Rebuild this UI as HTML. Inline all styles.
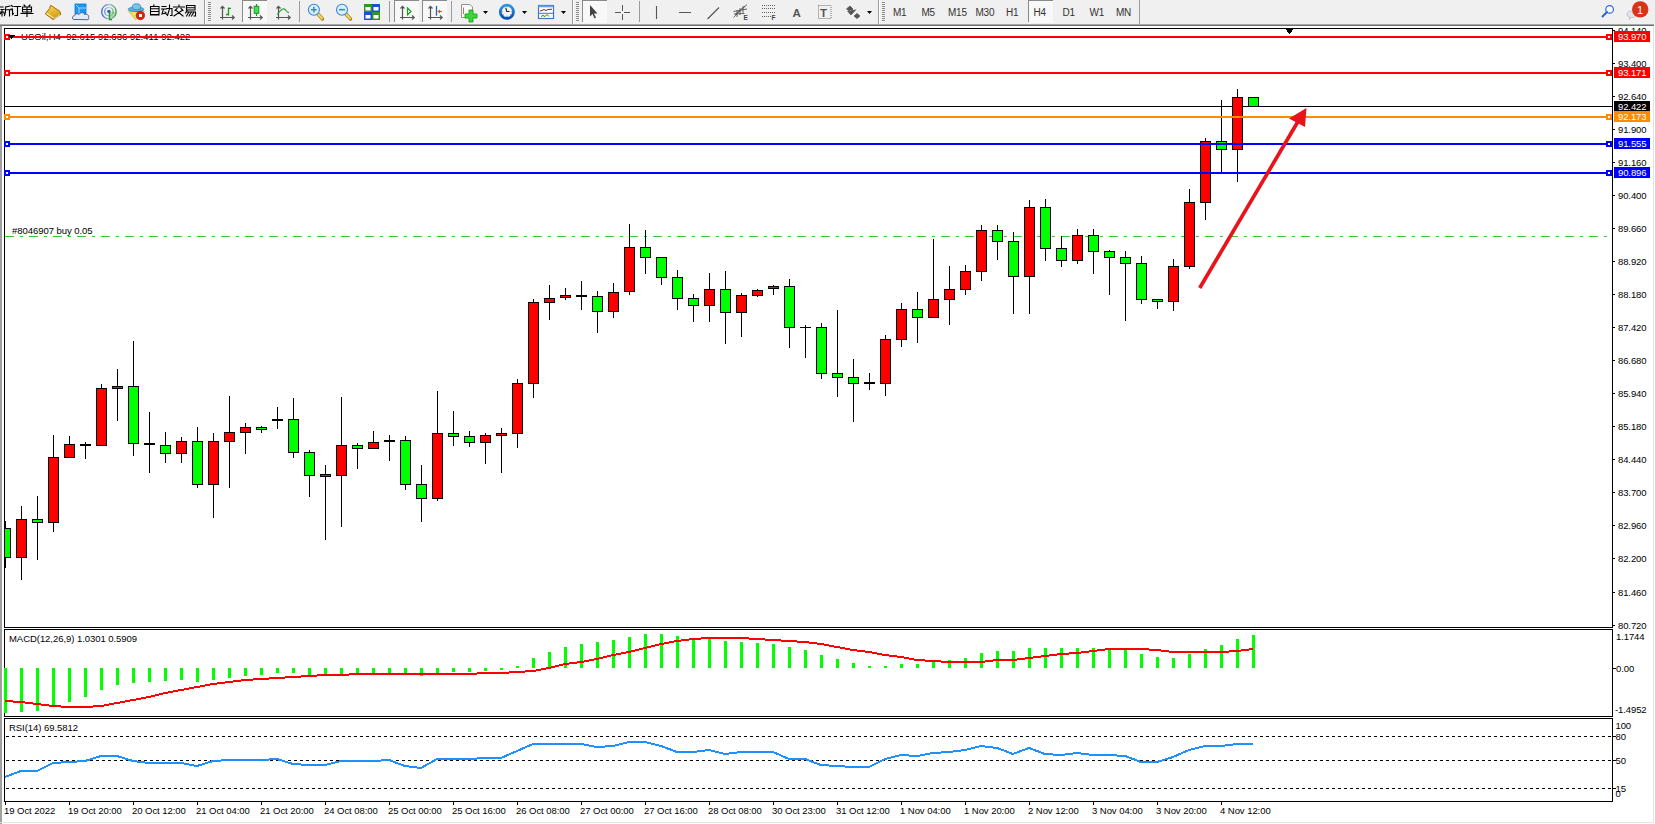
<!DOCTYPE html>
<html><head><meta charset="utf-8"><style>
html,body{margin:0;padding:0;width:1655px;height:824px;overflow:hidden;background:#fff}
svg{position:absolute;left:0;top:0;display:block}
.ax{font-family:"Liberation Sans",sans-serif;font-size:9.5px;fill:#000;letter-spacing:-0.1px}
.axw{font-family:"Liberation Sans",sans-serif;font-size:9.5px;fill:#fff;letter-spacing:-0.1px}
.lbl{font-family:"Liberation Sans",sans-serif;font-size:9.5px;fill:#000;letter-spacing:-0.05px}
.tb{font-family:"Liberation Sans",sans-serif;font-size:10px;fill:#333}
</style></head><body>
<svg width="1655" height="824" viewBox="0 0 1655 824" shape-rendering="crispEdges">
<rect x="0" y="0" width="1655" height="24" fill="#f0f0f0"/>
<rect x="0" y="24" width="1654" height="1" fill="#a8a8a8"/>
<rect x="0" y="25" width="1654" height="1" fill="#6e6e6e"/>
<rect x="0" y="26" width="1655" height="798" fill="#ffffff"/>
<rect x="0" y="26" width="2" height="798" fill="#a0a0a0"/>
<rect x="1653" y="26" width="1" height="797" fill="#e3e3e3"/>
<rect x="0" y="822" width="1654" height="1" fill="#e3e3e3"/>
<rect x="4.5" y="28.5" width="1608" height="599" fill="none" stroke="#000" stroke-width="1"/>
<rect x="4.5" y="629.5" width="1608" height="87" fill="none" stroke="#000" stroke-width="1"/>
<rect x="4.5" y="718.5" width="1608" height="83" fill="none" stroke="#000" stroke-width="1"/>
<rect x="1613" y="30" width="2" height="1" fill="#000"/>
<text x="1618" y="34.0" class="ax">94.140</text>
<rect x="1613" y="63" width="2" height="1" fill="#000"/>
<text x="1618" y="67.0" class="ax">93.400</text>
<rect x="1613" y="96" width="2" height="1" fill="#000"/>
<text x="1618" y="100.0" class="ax">92.640</text>
<rect x="1613" y="129" width="2" height="1" fill="#000"/>
<text x="1618" y="133.0" class="ax">91.900</text>
<rect x="1613" y="162" width="2" height="1" fill="#000"/>
<text x="1618" y="166.0" class="ax">91.160</text>
<rect x="1613" y="195" width="2" height="1" fill="#000"/>
<text x="1618" y="199.0" class="ax">90.400</text>
<rect x="1613" y="228" width="2" height="1" fill="#000"/>
<text x="1618" y="232.0" class="ax">89.660</text>
<rect x="1613" y="261" width="2" height="1" fill="#000"/>
<text x="1618" y="265.0" class="ax">88.920</text>
<rect x="1613" y="294" width="2" height="1" fill="#000"/>
<text x="1618" y="298.0" class="ax">88.180</text>
<rect x="1613" y="327" width="2" height="1" fill="#000"/>
<text x="1618" y="331.0" class="ax">87.420</text>
<rect x="1613" y="360" width="2" height="1" fill="#000"/>
<text x="1618" y="364.0" class="ax">86.680</text>
<rect x="1613" y="393" width="2" height="1" fill="#000"/>
<text x="1618" y="397.0" class="ax">85.940</text>
<rect x="1613" y="426" width="2" height="1" fill="#000"/>
<text x="1618" y="430.0" class="ax">85.180</text>
<rect x="1613" y="459" width="2" height="1" fill="#000"/>
<text x="1618" y="463.0" class="ax">84.440</text>
<rect x="1613" y="492" width="2" height="1" fill="#000"/>
<text x="1618" y="496.0" class="ax">83.700</text>
<rect x="1613" y="525" width="2" height="1" fill="#000"/>
<text x="1618" y="529.0" class="ax">82.960</text>
<rect x="1613" y="558" width="2" height="1" fill="#000"/>
<text x="1618" y="562.0" class="ax">82.200</text>
<rect x="1613" y="592" width="2" height="1" fill="#000"/>
<text x="1618" y="596.0" class="ax">81.460</text>
<rect x="1613" y="625" width="2" height="1" fill="#000"/>
<text x="1618" y="629.0" class="ax">80.720</text>
<rect x="5" y="106" width="1607" height="1" fill="#000"/>
<rect x="1614" y="101" width="36" height="11" fill="#000"/>
<text x="1618" y="110" class="axw">92.422</text>
<line x1="5" y1="236.5" x2="1612" y2="236.5" stroke="#32cd32" stroke-width="1" stroke-dasharray="9 6 3 6"/>
<text x="12" y="234" class="lbl">#8046907 buy 0.05</text>
<text x="21" y="40" class="lbl" style="letter-spacing:0.03px">USOil,H4&#160;&#160;92.615 92.636 92.411 92.422</text>
<path d="M1284.5 28 L1294.5 28 L1289.5 34 Z" fill="#000"/>
<rect x="5" y="521" width="1" height="47" fill="#000"/>
<rect x="0.5" y="528.5" width="10" height="29" fill="#00ff00" stroke="#000" stroke-width="1"/>
<rect x="21" y="506" width="1" height="74" fill="#000"/>
<rect x="16.5" y="519.5" width="10" height="38" fill="#ff0000" stroke="#000" stroke-width="1"/>
<rect x="37" y="496" width="1" height="64" fill="#000"/>
<rect x="32.5" y="519.5" width="10" height="3" fill="#00ff00" stroke="#000" stroke-width="1"/>
<rect x="53" y="435" width="1" height="97" fill="#000"/>
<rect x="48.5" y="457.5" width="10" height="65" fill="#ff0000" stroke="#000" stroke-width="1"/>
<rect x="69" y="436" width="1" height="21" fill="#000"/>
<rect x="64.5" y="444.5" width="10" height="13" fill="#ff0000" stroke="#000" stroke-width="1"/>
<rect x="85" y="442" width="1" height="17" fill="#000"/>
<rect x="80" y="444" width="11" height="2" fill="#000"/>
<rect x="101" y="384" width="1" height="61" fill="#000"/>
<rect x="96.5" y="388.5" width="10" height="57" fill="#ff0000" stroke="#000" stroke-width="1"/>
<rect x="117" y="369" width="1" height="52" fill="#000"/>
<rect x="112.5" y="386.5" width="10" height="2" fill="#ff0000" stroke="#000" stroke-width="1"/>
<rect x="133" y="341" width="1" height="115" fill="#000"/>
<rect x="128.5" y="386.5" width="10" height="57" fill="#00ff00" stroke="#000" stroke-width="1"/>
<rect x="149" y="412" width="1" height="61" fill="#000"/>
<rect x="144" y="443" width="11" height="2" fill="#000"/>
<rect x="165" y="432" width="1" height="31" fill="#000"/>
<rect x="160.5" y="445.5" width="10" height="8" fill="#00ff00" stroke="#000" stroke-width="1"/>
<rect x="181" y="437" width="1" height="26" fill="#000"/>
<rect x="176.5" y="441.5" width="10" height="12" fill="#ff0000" stroke="#000" stroke-width="1"/>
<rect x="197" y="427" width="1" height="61" fill="#000"/>
<rect x="192.5" y="441.5" width="10" height="43" fill="#00ff00" stroke="#000" stroke-width="1"/>
<rect x="213" y="433" width="1" height="85" fill="#000"/>
<rect x="208.5" y="441.5" width="10" height="43" fill="#ff0000" stroke="#000" stroke-width="1"/>
<rect x="229" y="396" width="1" height="92" fill="#000"/>
<rect x="224.5" y="432.5" width="10" height="9" fill="#ff0000" stroke="#000" stroke-width="1"/>
<rect x="245" y="423" width="1" height="31" fill="#000"/>
<rect x="240.5" y="427.5" width="10" height="5" fill="#ff0000" stroke="#000" stroke-width="1"/>
<rect x="261" y="426" width="1" height="7" fill="#000"/>
<rect x="256.5" y="427.5" width="10" height="2" fill="#00ff00" stroke="#000" stroke-width="1"/>
<rect x="277" y="407" width="1" height="22" fill="#000"/>
<rect x="272" y="419" width="11" height="2" fill="#000"/>
<rect x="293" y="398" width="1" height="60" fill="#000"/>
<rect x="288.5" y="419.5" width="10" height="33" fill="#00ff00" stroke="#000" stroke-width="1"/>
<rect x="309" y="450" width="1" height="47" fill="#000"/>
<rect x="304.5" y="452.5" width="10" height="23" fill="#00ff00" stroke="#000" stroke-width="1"/>
<rect x="325" y="465" width="1" height="75" fill="#000"/>
<rect x="320.5" y="474.5" width="10" height="2" fill="#ff0000" stroke="#000" stroke-width="1"/>
<rect x="341" y="397" width="1" height="130" fill="#000"/>
<rect x="336.5" y="445.5" width="10" height="30" fill="#ff0000" stroke="#000" stroke-width="1"/>
<rect x="357" y="443" width="1" height="26" fill="#000"/>
<rect x="352.5" y="445.5" width="10" height="3" fill="#00ff00" stroke="#000" stroke-width="1"/>
<rect x="373" y="431" width="1" height="17" fill="#000"/>
<rect x="368.5" y="442.5" width="10" height="6" fill="#ff0000" stroke="#000" stroke-width="1"/>
<rect x="389" y="435" width="1" height="26" fill="#000"/>
<rect x="384" y="440" width="11" height="2" fill="#000"/>
<rect x="405" y="436" width="1" height="54" fill="#000"/>
<rect x="400.5" y="440.5" width="10" height="44" fill="#00ff00" stroke="#000" stroke-width="1"/>
<rect x="421" y="465" width="1" height="57" fill="#000"/>
<rect x="416.5" y="484.5" width="10" height="14" fill="#00ff00" stroke="#000" stroke-width="1"/>
<rect x="437" y="391" width="1" height="110" fill="#000"/>
<rect x="432.5" y="433.5" width="10" height="65" fill="#ff0000" stroke="#000" stroke-width="1"/>
<rect x="453" y="411" width="1" height="35" fill="#000"/>
<rect x="448.5" y="433.5" width="10" height="3" fill="#00ff00" stroke="#000" stroke-width="1"/>
<rect x="469" y="431" width="1" height="16" fill="#000"/>
<rect x="464.5" y="436.5" width="10" height="6" fill="#00ff00" stroke="#000" stroke-width="1"/>
<rect x="485" y="433" width="1" height="31" fill="#000"/>
<rect x="480.5" y="435.5" width="10" height="7" fill="#ff0000" stroke="#000" stroke-width="1"/>
<rect x="501" y="428" width="1" height="45" fill="#000"/>
<rect x="496.5" y="433.5" width="10" height="2" fill="#ff0000" stroke="#000" stroke-width="1"/>
<rect x="517" y="379" width="1" height="69" fill="#000"/>
<rect x="512.5" y="383.5" width="10" height="50" fill="#ff0000" stroke="#000" stroke-width="1"/>
<rect x="533" y="299" width="1" height="99" fill="#000"/>
<rect x="528.5" y="302.5" width="10" height="81" fill="#ff0000" stroke="#000" stroke-width="1"/>
<rect x="549" y="285" width="1" height="35" fill="#000"/>
<rect x="544.5" y="298.5" width="10" height="4" fill="#ff0000" stroke="#000" stroke-width="1"/>
<rect x="565" y="288" width="1" height="12" fill="#000"/>
<rect x="560.5" y="295.5" width="10" height="2" fill="#ff0000" stroke="#000" stroke-width="1"/>
<rect x="581" y="281" width="1" height="29" fill="#000"/>
<rect x="576" y="295" width="11" height="2" fill="#000"/>
<rect x="597" y="291" width="1" height="42" fill="#000"/>
<rect x="592.5" y="296.5" width="10" height="15" fill="#00ff00" stroke="#000" stroke-width="1"/>
<rect x="613" y="283" width="1" height="35" fill="#000"/>
<rect x="608.5" y="292.5" width="10" height="19" fill="#ff0000" stroke="#000" stroke-width="1"/>
<rect x="629" y="224" width="1" height="71" fill="#000"/>
<rect x="624.5" y="247.5" width="10" height="44" fill="#ff0000" stroke="#000" stroke-width="1"/>
<rect x="645" y="230" width="1" height="44" fill="#000"/>
<rect x="640.5" y="247.5" width="10" height="10" fill="#00ff00" stroke="#000" stroke-width="1"/>
<rect x="661" y="257" width="1" height="28" fill="#000"/>
<rect x="656.5" y="257.5" width="10" height="20" fill="#00ff00" stroke="#000" stroke-width="1"/>
<rect x="677" y="270" width="1" height="40" fill="#000"/>
<rect x="672.5" y="277.5" width="10" height="21" fill="#00ff00" stroke="#000" stroke-width="1"/>
<rect x="693" y="294" width="1" height="28" fill="#000"/>
<rect x="688.5" y="298.5" width="10" height="7" fill="#00ff00" stroke="#000" stroke-width="1"/>
<rect x="709" y="273" width="1" height="49" fill="#000"/>
<rect x="704.5" y="289.5" width="10" height="16" fill="#ff0000" stroke="#000" stroke-width="1"/>
<rect x="725" y="271" width="1" height="73" fill="#000"/>
<rect x="720.5" y="289.5" width="10" height="23" fill="#00ff00" stroke="#000" stroke-width="1"/>
<rect x="741" y="293" width="1" height="44" fill="#000"/>
<rect x="736.5" y="295.5" width="10" height="17" fill="#ff0000" stroke="#000" stroke-width="1"/>
<rect x="757" y="289" width="1" height="8" fill="#000"/>
<rect x="752.5" y="290.5" width="10" height="5" fill="#ff0000" stroke="#000" stroke-width="1"/>
<rect x="773" y="285" width="1" height="10" fill="#000"/>
<rect x="768.5" y="286.5" width="10" height="2" fill="#ff0000" stroke="#000" stroke-width="1"/>
<rect x="789" y="279" width="1" height="69" fill="#000"/>
<rect x="784.5" y="286.5" width="10" height="41" fill="#00ff00" stroke="#000" stroke-width="1"/>
<rect x="805" y="325" width="1" height="33" fill="#000"/>
<rect x="800" y="327" width="11" height="1" fill="#000"/>
<rect x="821" y="323" width="1" height="56" fill="#000"/>
<rect x="816.5" y="327.5" width="10" height="46" fill="#00ff00" stroke="#000" stroke-width="1"/>
<rect x="837" y="310" width="1" height="87" fill="#000"/>
<rect x="832.5" y="373.5" width="10" height="4" fill="#00ff00" stroke="#000" stroke-width="1"/>
<rect x="853" y="359" width="1" height="63" fill="#000"/>
<rect x="848.5" y="377.5" width="10" height="6" fill="#00ff00" stroke="#000" stroke-width="1"/>
<rect x="869" y="373" width="1" height="17" fill="#000"/>
<rect x="864" y="382" width="11" height="2" fill="#000"/>
<rect x="885" y="335" width="1" height="61" fill="#000"/>
<rect x="880.5" y="339.5" width="10" height="44" fill="#ff0000" stroke="#000" stroke-width="1"/>
<rect x="901" y="303" width="1" height="44" fill="#000"/>
<rect x="896.5" y="309.5" width="10" height="30" fill="#ff0000" stroke="#000" stroke-width="1"/>
<rect x="917" y="292" width="1" height="51" fill="#000"/>
<rect x="912.5" y="309.5" width="10" height="8" fill="#00ff00" stroke="#000" stroke-width="1"/>
<rect x="933" y="239" width="1" height="78" fill="#000"/>
<rect x="928.5" y="299.5" width="10" height="18" fill="#ff0000" stroke="#000" stroke-width="1"/>
<rect x="949" y="266" width="1" height="59" fill="#000"/>
<rect x="944.5" y="289.5" width="10" height="10" fill="#ff0000" stroke="#000" stroke-width="1"/>
<rect x="965" y="265" width="1" height="30" fill="#000"/>
<rect x="960.5" y="271.5" width="10" height="18" fill="#ff0000" stroke="#000" stroke-width="1"/>
<rect x="981" y="225" width="1" height="56" fill="#000"/>
<rect x="976.5" y="230.5" width="10" height="41" fill="#ff0000" stroke="#000" stroke-width="1"/>
<rect x="997" y="225" width="1" height="35" fill="#000"/>
<rect x="992.5" y="230.5" width="10" height="11" fill="#00ff00" stroke="#000" stroke-width="1"/>
<rect x="1013" y="232" width="1" height="82" fill="#000"/>
<rect x="1008.5" y="241.5" width="10" height="35" fill="#00ff00" stroke="#000" stroke-width="1"/>
<rect x="1029" y="200" width="1" height="114" fill="#000"/>
<rect x="1024.5" y="207.5" width="10" height="69" fill="#ff0000" stroke="#000" stroke-width="1"/>
<rect x="1045" y="199" width="1" height="62" fill="#000"/>
<rect x="1040.5" y="207.5" width="10" height="41" fill="#00ff00" stroke="#000" stroke-width="1"/>
<rect x="1061" y="236" width="1" height="31" fill="#000"/>
<rect x="1056.5" y="248.5" width="10" height="12" fill="#00ff00" stroke="#000" stroke-width="1"/>
<rect x="1077" y="229" width="1" height="35" fill="#000"/>
<rect x="1072.5" y="235.5" width="10" height="25" fill="#ff0000" stroke="#000" stroke-width="1"/>
<rect x="1093" y="229" width="1" height="45" fill="#000"/>
<rect x="1088.5" y="235.5" width="10" height="16" fill="#00ff00" stroke="#000" stroke-width="1"/>
<rect x="1109" y="250" width="1" height="45" fill="#000"/>
<rect x="1104.5" y="251.5" width="10" height="6" fill="#00ff00" stroke="#000" stroke-width="1"/>
<rect x="1125" y="251" width="1" height="70" fill="#000"/>
<rect x="1120.5" y="257.5" width="10" height="6" fill="#00ff00" stroke="#000" stroke-width="1"/>
<rect x="1141" y="256" width="1" height="48" fill="#000"/>
<rect x="1136.5" y="263.5" width="10" height="36" fill="#00ff00" stroke="#000" stroke-width="1"/>
<rect x="1157" y="299" width="1" height="10" fill="#000"/>
<rect x="1152.5" y="299.5" width="10" height="2" fill="#00ff00" stroke="#000" stroke-width="1"/>
<rect x="1173" y="259" width="1" height="52" fill="#000"/>
<rect x="1168.5" y="266.5" width="10" height="35" fill="#ff0000" stroke="#000" stroke-width="1"/>
<rect x="1189" y="189" width="1" height="80" fill="#000"/>
<rect x="1184.5" y="202.5" width="10" height="64" fill="#ff0000" stroke="#000" stroke-width="1"/>
<rect x="1205" y="138" width="1" height="82" fill="#000"/>
<rect x="1200.5" y="141.5" width="10" height="61" fill="#ff0000" stroke="#000" stroke-width="1"/>
<rect x="1221" y="100" width="1" height="72" fill="#000"/>
<rect x="1216.5" y="141.5" width="10" height="8" fill="#00ff00" stroke="#000" stroke-width="1"/>
<rect x="1237" y="89" width="1" height="93" fill="#000"/>
<rect x="1232.5" y="97.5" width="10" height="52" fill="#ff0000" stroke="#000" stroke-width="1"/>
<rect x="1253" y="97" width="1" height="9" fill="#000"/>
<rect x="1248.5" y="97.5" width="10" height="9" fill="#00ff00" stroke="#000" stroke-width="1"/>
<rect x="2" y="29" width="2" height="598" fill="#fff"/>
<rect x="0" y="29" width="2" height="598" fill="#a0a0a0"/>
<rect x="4" y="28" width="1" height="600" fill="#000"/>
<rect x="5" y="36" width="1607" height="2" fill="#ff0000"/>
<rect x="4" y="34" width="6" height="6" fill="#ff0000"/>
<rect x="6" y="36" width="2" height="2" fill="#fff"/>
<rect x="1606" y="34" width="6" height="6" fill="#ff0000"/>
<rect x="1608" y="36" width="2" height="2" fill="#fff"/>
<rect x="1614" y="31" width="36" height="11" fill="#ff0000"/>
<text x="1618" y="40" class="axw">93.970</text>
<rect x="5" y="72" width="1607" height="2" fill="#ff0000"/>
<rect x="4" y="70" width="6" height="6" fill="#ff0000"/>
<rect x="6" y="72" width="2" height="2" fill="#fff"/>
<rect x="1606" y="70" width="6" height="6" fill="#ff0000"/>
<rect x="1608" y="72" width="2" height="2" fill="#fff"/>
<rect x="1614" y="67" width="36" height="11" fill="#ff0000"/>
<text x="1618" y="76" class="axw">93.171</text>
<rect x="5" y="116" width="1607" height="2" fill="#ff8c00"/>
<rect x="4" y="114" width="6" height="6" fill="#ff8c00"/>
<rect x="6" y="116" width="2" height="2" fill="#fff"/>
<rect x="1606" y="114" width="6" height="6" fill="#ff8c00"/>
<rect x="1608" y="116" width="2" height="2" fill="#fff"/>
<rect x="1614" y="111" width="36" height="11" fill="#ff8c00"/>
<text x="1618" y="120" class="axw">92.173</text>
<rect x="5" y="143" width="1607" height="2" fill="#0000ff"/>
<rect x="4" y="141" width="6" height="6" fill="#0000ff"/>
<rect x="6" y="143" width="2" height="2" fill="#fff"/>
<rect x="1606" y="141" width="6" height="6" fill="#0000ff"/>
<rect x="1608" y="143" width="2" height="2" fill="#fff"/>
<rect x="1614" y="138" width="36" height="11" fill="#0000ff"/>
<text x="1618" y="147" class="axw">91.555</text>
<rect x="5" y="172" width="1607" height="2" fill="#0000ff"/>
<rect x="4" y="170" width="6" height="6" fill="#0000ff"/>
<rect x="6" y="172" width="2" height="2" fill="#fff"/>
<rect x="1606" y="170" width="6" height="6" fill="#0000ff"/>
<rect x="1608" y="172" width="2" height="2" fill="#fff"/>
<rect x="1614" y="167" width="36" height="11" fill="#0000ff"/>
<text x="1618" y="176" class="axw">90.896</text>
<path d="M8 35 L15 35 L11.5 39.5 Z" fill="#000"/>
<g shape-rendering="geometricPrecision"><line x1="1199.7" y1="288" x2="1297.7" y2="122" stroke="#e8141c" stroke-width="3.7"/>
<path d="M1306.5 108 L1289 118.5 L1305 127 Z" fill="#e8141c"/></g>
<text x="9" y="642" class="lbl">MACD(12,26,9) 1.0301 0.5909</text>
<rect x="4" y="668" width="3" height="45" fill="#00ff00"/>
<rect x="20" y="668" width="3" height="44" fill="#00ff00"/>
<rect x="36" y="668" width="3" height="43" fill="#00ff00"/>
<rect x="52" y="668" width="3" height="39" fill="#00ff00"/>
<rect x="68" y="668" width="3" height="34" fill="#00ff00"/>
<rect x="84" y="668" width="3" height="29" fill="#00ff00"/>
<rect x="100" y="668" width="3" height="22" fill="#00ff00"/>
<rect x="116" y="668" width="3" height="17" fill="#00ff00"/>
<rect x="132" y="668" width="3" height="15" fill="#00ff00"/>
<rect x="148" y="668" width="3" height="14" fill="#00ff00"/>
<rect x="164" y="668" width="3" height="13" fill="#00ff00"/>
<rect x="180" y="668" width="3" height="12" fill="#00ff00"/>
<rect x="196" y="668" width="3" height="14" fill="#00ff00"/>
<rect x="212" y="668" width="3" height="12" fill="#00ff00"/>
<rect x="228" y="668" width="3" height="10" fill="#00ff00"/>
<rect x="244" y="668" width="3" height="8" fill="#00ff00"/>
<rect x="260" y="668" width="3" height="7" fill="#00ff00"/>
<rect x="276" y="668" width="3" height="5" fill="#00ff00"/>
<rect x="292" y="668" width="3" height="5" fill="#00ff00"/>
<rect x="308" y="668" width="3" height="7" fill="#00ff00"/>
<rect x="324" y="668" width="3" height="7" fill="#00ff00"/>
<rect x="340" y="668" width="3" height="6" fill="#00ff00"/>
<rect x="356" y="668" width="3" height="6" fill="#00ff00"/>
<rect x="372" y="668" width="3" height="6" fill="#00ff00"/>
<rect x="388" y="668" width="3" height="6" fill="#00ff00"/>
<rect x="404" y="668" width="3" height="6" fill="#00ff00"/>
<rect x="420" y="668" width="3" height="8" fill="#00ff00"/>
<rect x="436" y="668" width="3" height="5" fill="#00ff00"/>
<rect x="452" y="668" width="3" height="4" fill="#00ff00"/>
<rect x="468" y="668" width="3" height="4" fill="#00ff00"/>
<rect x="484" y="668" width="3" height="3" fill="#00ff00"/>
<rect x="500" y="668" width="3" height="2" fill="#00ff00"/>
<rect x="516" y="666" width="3" height="2" fill="#00ff00"/>
<rect x="532" y="658" width="3" height="10" fill="#00ff00"/>
<rect x="548" y="652" width="3" height="16" fill="#00ff00"/>
<rect x="564" y="647" width="3" height="21" fill="#00ff00"/>
<rect x="580" y="644" width="3" height="24" fill="#00ff00"/>
<rect x="596" y="642" width="3" height="26" fill="#00ff00"/>
<rect x="612" y="640" width="3" height="28" fill="#00ff00"/>
<rect x="628" y="637" width="3" height="31" fill="#00ff00"/>
<rect x="644" y="634" width="3" height="34" fill="#00ff00"/>
<rect x="660" y="634" width="3" height="34" fill="#00ff00"/>
<rect x="676" y="636" width="3" height="32" fill="#00ff00"/>
<rect x="692" y="638" width="3" height="30" fill="#00ff00"/>
<rect x="708" y="639" width="3" height="29" fill="#00ff00"/>
<rect x="724" y="641" width="3" height="27" fill="#00ff00"/>
<rect x="740" y="642" width="3" height="26" fill="#00ff00"/>
<rect x="756" y="643" width="3" height="25" fill="#00ff00"/>
<rect x="772" y="644" width="3" height="24" fill="#00ff00"/>
<rect x="788" y="647" width="3" height="21" fill="#00ff00"/>
<rect x="804" y="650" width="3" height="18" fill="#00ff00"/>
<rect x="820" y="655" width="3" height="13" fill="#00ff00"/>
<rect x="836" y="659" width="3" height="9" fill="#00ff00"/>
<rect x="852" y="663" width="3" height="5" fill="#00ff00"/>
<rect x="868" y="666" width="3" height="2" fill="#00ff00"/>
<rect x="884" y="666" width="3" height="2" fill="#00ff00"/>
<rect x="900" y="664" width="3" height="4" fill="#00ff00"/>
<rect x="916" y="664" width="3" height="4" fill="#00ff00"/>
<rect x="932" y="662" width="3" height="6" fill="#00ff00"/>
<rect x="948" y="660" width="3" height="8" fill="#00ff00"/>
<rect x="964" y="658" width="3" height="10" fill="#00ff00"/>
<rect x="980" y="653" width="3" height="15" fill="#00ff00"/>
<rect x="996" y="651" width="3" height="17" fill="#00ff00"/>
<rect x="1012" y="651" width="3" height="17" fill="#00ff00"/>
<rect x="1028" y="648" width="3" height="20" fill="#00ff00"/>
<rect x="1044" y="648" width="3" height="20" fill="#00ff00"/>
<rect x="1060" y="648" width="3" height="20" fill="#00ff00"/>
<rect x="1076" y="648" width="3" height="20" fill="#00ff00"/>
<rect x="1092" y="648" width="3" height="20" fill="#00ff00"/>
<rect x="1108" y="650" width="3" height="18" fill="#00ff00"/>
<rect x="1124" y="650" width="3" height="18" fill="#00ff00"/>
<rect x="1140" y="654" width="3" height="14" fill="#00ff00"/>
<rect x="1156" y="657" width="3" height="11" fill="#00ff00"/>
<rect x="1172" y="658" width="3" height="10" fill="#00ff00"/>
<rect x="1188" y="654" width="3" height="14" fill="#00ff00"/>
<rect x="1204" y="649" width="3" height="19" fill="#00ff00"/>
<rect x="1220" y="645" width="3" height="23" fill="#00ff00"/>
<rect x="1236" y="639" width="3" height="29" fill="#00ff00"/>
<rect x="1252" y="635" width="3" height="33" fill="#00ff00"/>
<polyline points="5,701 21,702 37,704 53,706 69,707 85,707 101,706 117,703 133,700 149,697 165,693 181,690 197,687 213,684 229,682 245,680 261,679 277,678 293,677 309,676 325,675 341,675 357,674 373,674 389,674 405,674 421,674 437,674 453,674 469,674 485,673 501,673 517,672 533,671 549,668 565,664 581,662 597,659 613,655 629,652 645,648 661,644 677,641 693,639 709,638 725,638 741,638 757,639 773,640 789,641 805,642 821,644 837,647 853,650 869,652 885,655 901,657 917,660 933,661 949,662 965,662 981,662 997,660 1013,660 1029,658 1045,656 1061,654 1077,653 1093,651 1109,649 1125,649 1141,649 1157,650 1173,652 1189,652 1205,652 1221,652 1237,651 1253,649" fill="none" stroke="#ff0000" stroke-width="2"/>
<rect x="1613" y="668" width="3" height="1" fill="#000"/>
<text x="1616" y="640" class="ax">1.1744</text>
<text x="1616" y="672" class="ax">0.00</text>
<text x="1615" y="713" class="ax">-1.4952</text>
<rect x="0" y="630" width="2" height="86" fill="#a0a0a0"/>
<text x="9" y="731" class="lbl">RSI(14) 69.5812</text>
<line x1="6" y1="736.5" x2="1612" y2="736.5" stroke="#000" stroke-width="1" stroke-dasharray="3 3"/>
<line x1="6" y1="760.5" x2="1612" y2="760.5" stroke="#000" stroke-width="1" stroke-dasharray="3 3"/>
<line x1="6" y1="788.5" x2="1612" y2="788.5" stroke="#000" stroke-width="1" stroke-dasharray="3 3"/>
<polyline points="5,777 21,771 37,771 53,763 69,762 85,761 101,756 117,756 133,761 149,763 165,763 181,763 197,766 213,761 229,760 245,760 261,760 277,759 293,764 309,765 325,765 341,761 357,761 373,761 389,760 405,766 421,768 437,759 453,759 469,759 485,758 501,758 517,751 533,744 549,744 565,744 581,744 597,747 613,746 629,742 645,742 661,746 677,752 693,752 709,750 725,754 741,752 757,752 773,752 789,759 805,759 821,765 837,766 853,767 869,767 885,759 901,755 917,756 933,753 949,752 965,750 981,746 997,748 1013,754 1029,748 1045,754 1061,755 1077,753 1093,755 1109,755 1125,756 1141,762 1157,762 1173,757 1189,750 1205,746 1221,746 1237,744 1253,744" fill="none" stroke="#1e90ff" stroke-width="2"/>
<text x="1615.5" y="729" class="ax">100</text>
<text x="1615.5" y="740" class="ax">80</text>
<text x="1615.5" y="764" class="ax">50</text>
<text x="1615.5" y="792" class="ax">15</text>
<text x="1615.5" y="797" class="ax">0</text>
<rect x="1613" y="736" width="3" height="1" fill="#000"/>
<rect x="1613" y="760" width="3" height="1" fill="#000"/>
<rect x="1613" y="788" width="3" height="1" fill="#000"/>
<rect x="5" y="802" width="1" height="3" fill="#000"/>
<text x="4" y="814" class="lbl">19 Oct 2022</text>
<rect x="69" y="802" width="1" height="3" fill="#000"/>
<text x="68" y="814" class="lbl">19 Oct 20:00</text>
<rect x="133" y="802" width="1" height="3" fill="#000"/>
<text x="132" y="814" class="lbl">20 Oct 12:00</text>
<rect x="197" y="802" width="1" height="3" fill="#000"/>
<text x="196" y="814" class="lbl">21 Oct 04:00</text>
<rect x="261" y="802" width="1" height="3" fill="#000"/>
<text x="260" y="814" class="lbl">21 Oct 20:00</text>
<rect x="325" y="802" width="1" height="3" fill="#000"/>
<text x="324" y="814" class="lbl">24 Oct 08:00</text>
<rect x="389" y="802" width="1" height="3" fill="#000"/>
<text x="388" y="814" class="lbl">25 Oct 00:00</text>
<rect x="453" y="802" width="1" height="3" fill="#000"/>
<text x="452" y="814" class="lbl">25 Oct 16:00</text>
<rect x="517" y="802" width="1" height="3" fill="#000"/>
<text x="516" y="814" class="lbl">26 Oct 08:00</text>
<rect x="581" y="802" width="1" height="3" fill="#000"/>
<text x="580" y="814" class="lbl">27 Oct 00:00</text>
<rect x="645" y="802" width="1" height="3" fill="#000"/>
<text x="644" y="814" class="lbl">27 Oct 16:00</text>
<rect x="709" y="802" width="1" height="3" fill="#000"/>
<text x="708" y="814" class="lbl">28 Oct 08:00</text>
<rect x="773" y="802" width="1" height="3" fill="#000"/>
<text x="772" y="814" class="lbl">30 Oct 23:00</text>
<rect x="837" y="802" width="1" height="3" fill="#000"/>
<text x="836" y="814" class="lbl">31 Oct 12:00</text>
<rect x="901" y="802" width="1" height="3" fill="#000"/>
<text x="900" y="814" class="lbl">1 Nov 04:00</text>
<rect x="965" y="802" width="1" height="3" fill="#000"/>
<text x="964" y="814" class="lbl">1 Nov 20:00</text>
<rect x="1029" y="802" width="1" height="3" fill="#000"/>
<text x="1028" y="814" class="lbl">2 Nov 12:00</text>
<rect x="1093" y="802" width="1" height="3" fill="#000"/>
<text x="1092" y="814" class="lbl">3 Nov 04:00</text>
<rect x="1157" y="802" width="1" height="3" fill="#000"/>
<text x="1156" y="814" class="lbl">3 Nov 20:00</text>
<rect x="1221" y="802" width="1" height="3" fill="#000"/>
<text x="1220" y="814" class="lbl">4 Nov 12:00</text>
<g id="icons"><g shape-rendering="geometricPrecision">
<!-- CJK text: 新订单 (strokes) -->
<g stroke="#000" stroke-width="1.1" fill="none" stroke-linecap="square">
<path d="M0 7 H3 M1 9.5 H4 M0.5 12 H4 M2 9.5 V16 M0 14 L1 13 M4 13 L4.5 14"/>
<path d="M5.5 7 L10 6 M5.5 7 V12 L4.5 15.5 M5.5 9.8 H12 M9.5 9.8 V16"/>
<path d="M11.5 5.5 L12.5 6.5 M11 9 H12.5 V14.5 L13.5 13.5 M14 6.5 H20.5 M17.5 6.5 V15.5 L15 15.5"/>
<path d="M24 5 L25 6 M30 5 L29 6 M22.5 7 H31.5 V12 H22.5 Z M22.5 9.5 H31.5 M21 13.5 H33 M27 7 V16.5"/>
</g>
<!-- CJK text: 自动交易 -->
<g stroke="#000" stroke-width="1.1" fill="none" stroke-linecap="square">
<path d="M154 5 L153.5 6 M150.5 6.5 H159 V15 H150.5 Z M150.5 8.8 H159 M150.5 11.5 H159 M150.5 14.5 H159"/>
<path d="M162 6.5 H166 M161.5 9 H166.5 M163.5 9 L162 14 L166 13 M165 12 L166.5 14.5 M167 8.5 H172 V15.5 L170.5 15.5 M169.5 5 V9 L167.5 15.5"/>
<path d="M179 5 V6.5 M173.5 7 H184.5 M177 8.5 L175 10.5 M181 8.5 L183 10.5 M176 10.5 L183 16 M182 10.5 L174 16"/>
<path d="M186.5 5.5 H195 V10 H186.5 Z M186.5 7.8 H195 M187.5 10 L185.5 13 M186.5 12 H195.5 V16 L194 16 M189 12 L186.5 16 M191.5 12 L189 16 M194 12 L191.5 16"/>
</g>
<!-- book icon -->
<defs><linearGradient id="bk" x1="0" y1="0" x2="0.3" y2="1"><stop offset="0" stop-color="#f8dc50"/><stop offset="1" stop-color="#d09a18"/></linearGradient></defs>
<path d="M50.7 5.3 L59.8 11.2 L60.8 14.5 L53.2 19.6 L45.3 13.8 L49.5 8.5 Z" fill="url(#bk)" stroke="#a8660c" stroke-width="1"/>
<path d="M46.5 13.2 L53.5 17.8" fill="none" stroke="#f8e8a0" stroke-width="1.2"/>
<path d="M54 18.8 L60.2 14.6" fill="none" stroke="#e8d8b0" stroke-width="1"/>
<!-- box+cloud -->
<rect x="75" y="4" width="11" height="10" fill="#1898f0" stroke="#0a78d0" stroke-width="0.8"/>
<path d="M76 5 L79 8 V14 M79 8 H86" stroke="#c8e8ff" stroke-width="0.8" fill="none"/>
<path d="M74 19.5 C71.5 19.5 72 15.5 74.5 15.8 C75 13.5 78 13 79 14.5 C80 12 84 12 84.5 14.5 C87 13.5 89.5 15.5 88.5 17.5 C89.5 19.5 88 19.7 87 19.7 Z" fill="#e4eaf4" stroke="#4a64a0" stroke-width="1"/>
<!-- radar -->
<defs><linearGradient id="rad" x1="0" y1="0" x2="1" y2="0"><stop offset="0" stop-color="#3a6ad8"/><stop offset="0.55" stop-color="#a8c8e0"/><stop offset="1" stop-color="#3a9a50"/></linearGradient></defs>
<path d="M108.9 11.7 L108.9 19.6 A7.9 7.9 0 0 0 116.8 11.7 Z" fill="#b8dcb0"/>
<circle cx="108.9" cy="11.7" r="7.2" fill="none" stroke="url(#rad)" stroke-width="1.3"/>
<circle cx="108.9" cy="11.7" r="4.2" fill="none" stroke="url(#rad)" stroke-width="1.2" opacity="0.8"/>
<circle cx="108.9" cy="11.5" r="1.7" fill="#2a58d0"/>
<path d="M109.5 12 V19.6 H112" stroke="#20a020" stroke-width="1.4" fill="none"/>
<!-- hat + stop -->
<path d="M128.5 11 L135.5 19.6 L144 14 L143.5 10.5 Z" fill="#f8e060" stroke="#d8a820" stroke-width="0.8"/>
<ellipse cx="136" cy="9.3" rx="7.8" ry="2.3" fill="#5ab0e0" stroke="#2a88b8" stroke-width="0.8"/>
<ellipse cx="136.5" cy="6.8" rx="4.2" ry="3" fill="#78c4ec" stroke="#2a88b8" stroke-width="0.8"/>
<circle cx="140.4" cy="15.5" r="4.2" fill="#e02010" stroke="#a81808" stroke-width="0.7"/>
<rect x="139" y="14" width="3" height="3" fill="#fff"/>
<!-- toolbar separators and grips -->
<rect x="204" y="0" width="1" height="24" fill="#9a9a9a"/><rect x="205" y="0" width="1" height="24" fill="#ffffff"/>
<g fill="#8c8c8c">
<rect x="208" y="2" width="3" height="1"/><rect x="208" y="4" width="3" height="1"/><rect x="208" y="6" width="3" height="1"/><rect x="208" y="8" width="3" height="1"/><rect x="208" y="10" width="3" height="1"/><rect x="208" y="12" width="3" height="1"/><rect x="208" y="14" width="3" height="1"/><rect x="208" y="16" width="3" height="1"/><rect x="208" y="18" width="3" height="1"/><rect x="208" y="20" width="3" height="1"/>
<rect x="576" y="2" width="3" height="1"/><rect x="576" y="4" width="3" height="1"/><rect x="576" y="6" width="3" height="1"/><rect x="576" y="8" width="3" height="1"/><rect x="576" y="10" width="3" height="1"/><rect x="576" y="12" width="3" height="1"/><rect x="576" y="14" width="3" height="1"/><rect x="576" y="16" width="3" height="1"/><rect x="576" y="18" width="3" height="1"/><rect x="576" y="20" width="3" height="1"/>
<rect x="882" y="2" width="3" height="1"/><rect x="882" y="4" width="3" height="1"/><rect x="882" y="6" width="3" height="1"/><rect x="882" y="8" width="3" height="1"/><rect x="882" y="10" width="3" height="1"/><rect x="882" y="12" width="3" height="1"/><rect x="882" y="14" width="3" height="1"/><rect x="882" y="16" width="3" height="1"/><rect x="882" y="18" width="3" height="1"/><rect x="882" y="20" width="3" height="1"/>
</g>
<g fill="#9a9a9a">
<rect x="299" y="1" width="1" height="21"/><rect x="389" y="1" width="1" height="21"/><rect x="451" y="1" width="1" height="21"/>
<rect x="572" y="0" width="1" height="24"/><rect x="639" y="1" width="1" height="21"/><rect x="878" y="0" width="1" height="24"/>
<rect x="1139" y="0" width="1" height="24"/>
</g>
<rect x="573" y="0" width="1" height="24" fill="#fff"/><rect x="879" y="0" width="1" height="24" fill="#fff"/>
<!-- pressed buttons -->
<g>
<rect x="242" y="0" width="25" height="23" fill="#f8f8f8"/><rect x="242" y="0" width="25" height="1" fill="#8a8a8a"/><rect x="242" y="0" width="1" height="22" fill="#8a8a8a"/>
<rect x="394" y="0" width="25" height="23" fill="#f8f8f8"/><rect x="394" y="0" width="25" height="1" fill="#8a8a8a"/><rect x="394" y="0" width="1" height="22" fill="#8a8a8a"/>
<rect x="422" y="0" width="25" height="23" fill="#f8f8f8"/><rect x="422" y="0" width="25" height="1" fill="#8a8a8a"/><rect x="422" y="0" width="1" height="22" fill="#8a8a8a"/>
<rect x="582" y="0" width="25" height="23" fill="#f8f8f8"/><rect x="582" y="0" width="25" height="1" fill="#8a8a8a"/><rect x="582" y="0" width="1" height="22" fill="#8a8a8a"/>
<rect x="1028" y="0" width="25" height="23" fill="#f8f8f8"/><rect x="1028" y="0" width="25" height="1" fill="#8a8a8a"/><rect x="1028" y="0" width="1" height="22" fill="#8a8a8a"/>
</g>
<!-- axes icons -->
<g stroke="#555" stroke-width="1.2" fill="none">
<path d="M222.5 19.5 V6.5 M220.5 8.5 L222.5 6.3 L224.5 8.5 M220 17.5 H234 M232 15.5 L234.2 17.5 L232 19.5"/>
<path d="M250.5 19.5 V6.5 M248.5 8.5 L250.5 6.3 L252.5 8.5 M248 17.5 H262 M260 15.5 L262.2 17.5 L260 19.5"/>
<path d="M278.5 19.5 V6.5 M276.5 8.5 L278.5 6.3 L280.5 8.5 M276 17.5 H290 M288 15.5 L290.2 17.5 L288 19.5"/>
<path d="M402.5 19.5 V6.5 M400.5 8.5 L402.5 6.3 L404.5 8.5 M400 17.5 H414 M412 15.5 L414.2 17.5 L412 19.5"/>
<path d="M430.5 19.5 V6.5 M428.5 8.5 L430.5 6.3 L432.5 8.5 M428 17.5 H442 M440 15.5 L442.2 17.5 L440 19.5"/>
</g>
<path d="M228.5 7.5 V15.5 M228.5 8.3 H231 M226 14.5 H228.5" stroke="#1a9a1a" stroke-width="1.3" fill="none"/>
<path d="M256.5 4 V16" stroke="#1a9a1a" stroke-width="1.2"/><rect x="254.2" y="6.3" width="4.6" height="7" fill="#40e060" stroke="#1a9a1a" stroke-width="1"/>
<path d="M277.3 14.5 Q283 6 286 10.5 Q287.5 12.5 289 12.7" stroke="#2a9a2a" stroke-width="1.2" fill="none"/>
<path d="M407.5 8 L411 11.5 L407.5 14.8 Z" fill="#fff" stroke="#18a018" stroke-width="1.2"/>
<path d="M436.5 6 V15.7" stroke="#1a6aa8" stroke-width="1.3"/><path d="M437.5 11.5 L440 9.5 V11 H442 V12 H440 V13.5 Z" fill="#e85010"/>
<!-- zoom icons -->
<path d="M317.5 13.5 L322.5 19" stroke="#b08010" stroke-width="3.4" stroke-linecap="round"/><path d="M317.5 13.5 L322.5 19" stroke="#f0d860" stroke-width="2"/>
<circle cx="313.9" cy="9.7" r="5.5" fill="#d8f0ff" stroke="#3a86d0" stroke-width="1.1"/>
<path d="M311 9.7 H316.8 M313.9 6.8 V12.6" stroke="#4a88a8" stroke-width="1.6"/>
<path d="M345.5 13.5 L350.5 19" stroke="#b08010" stroke-width="3.4" stroke-linecap="round"/><path d="M345.5 13.5 L350.5 19" stroke="#f0d860" stroke-width="2"/>
<circle cx="342" cy="9.7" r="5.5" fill="#d8f0ff" stroke="#3a86d0" stroke-width="1.1"/>
<path d="M339 9.7 H345" stroke="#4a88a8" stroke-width="1.6"/>
<!-- tile icon -->
<rect x="364" y="4" width="8" height="8" fill="#2c9a20"/><rect x="372" y="4" width="8" height="8" fill="#1c50d0"/>
<rect x="364" y="12" width="8" height="8" fill="#1c50d0"/><rect x="372" y="12" width="8" height="8" fill="#2c9a20"/>
<g fill="#fff"><rect x="365.5" y="7" width="5" height="3.5"/><rect x="373.5" y="7" width="5" height="3.5"/><rect x="365.5" y="15" width="5" height="3.5"/><rect x="373.5" y="15" width="5" height="3.5"/></g>
<!-- new chart -->
<path d="M461.5 4.5 H470 L472.5 7 V17.5 H461.5 Z" fill="#fafafa" stroke="#888" stroke-width="0.9"/>
<path d="M463.5 7.5 V14" stroke="#7a6040" stroke-width="0.8"/>
<path d="M469 10 H473 V14 H477 V18 H473 V22 H469 V18 H465 V14 H469 Z" fill="#38d838" stroke="#20a020" stroke-width="0.9"/>
<path d="M483 11 H488 L485.5 14 Z" fill="#000"/>
<!-- clock -->
<defs><linearGradient id="clk" x1="0" y1="0" x2="0" y2="1"><stop offset="0" stop-color="#2a9af0"/><stop offset="1" stop-color="#0a4cb0"/></linearGradient></defs>
<circle cx="506.9" cy="11.8" r="6.6" fill="#f2f2f2" stroke="url(#clk)" stroke-width="2.8"/>
<path d="M505.8 8 L506.8 11.5 H509.5" stroke="#222" stroke-width="1.1" fill="none"/>
<g fill="#777"><rect x="506.4" y="6.3" width="1" height="1"/><rect x="511.3" y="11.3" width="1" height="1"/><rect x="501.6" y="11.3" width="1" height="1"/><rect x="503" y="14.5" width="1" height="1"/><rect x="510" y="14.5" width="1" height="1"/><rect x="505.8" y="15.8" width="2" height="1" fill="#6ab0f0"/></g>
<path d="M522 11 H527 L524.5 14 Z" fill="#000"/>
<!-- template -->
<rect x="538.5" y="5.5" width="15" height="13" fill="#fff" stroke="#3a78c8" stroke-width="1.2"/>
<rect x="538.5" y="5.5" width="15" height="1.8" fill="#6aa0e0"/>
<rect x="538.5" y="12.8" width="15" height="1" fill="#3a78c8"/>
<path d="M540 11 L542 10.5 L544 9.5 L546 10.5 L548 9.5 L552 9.2" stroke="#a02010" stroke-width="1" fill="none"/>
<path d="M541 16.5 L543 15.5 L545 16.5 L547 14.5 L549 16.5" stroke="#108a10" stroke-width="1" fill="none"/>
<path d="M561 11 H566 L563.5 14 Z" fill="#000"/>
<!-- cursor -->
<path d="M590 5 L590 16.5 L592.5 14 L594.5 18.5 L596 17.8 L594 13.5 L597.5 13.5 Z" fill="#444"/>
<!-- crosshair -->
<path d="M622.5 5 V20 M615 12.5 H630" stroke="#555" stroke-width="1"/>
<rect x="621" y="11" width="3" height="3" fill="#f0f0f0"/>
<!-- lines -->
<path d="M656.5 6 V19 M679 12.5 H691 M707.5 19 L719 7.5" stroke="#555" stroke-width="1.1" fill="none"/>
<path d="M733.5 17.5 L747 4.5 M735 14.5 L745 6 M737 10 V17 M740 8 V15 M743 6 V13 M734 14 L744.5 13.5 M733.5 11.5 L747 9" stroke="#555" stroke-width="0.9" fill="none"/>
<text x="743.5" y="20" font-family="Liberation Sans" font-size="6.5" font-weight="bold" fill="#444">E</text>
<path d="M762 5.5 H775 M762 8.5 H775 M762 12.5 H775 M762 16.5 H772" stroke="#555" stroke-width="0.9" stroke-dasharray="1 1" fill="none"/>
<text x="771.5" y="20" font-family="Liberation Sans" font-size="6.5" font-weight="bold" fill="#444">F</text>
<text x="792.5" y="17" font-family="Liberation Sans" font-size="11.5" font-weight="bold" fill="#555">A</text>
<rect x="818.5" y="5.5" width="12.5" height="13" fill="none" stroke="#666" stroke-width="0.9" stroke-dasharray="1 1"/>
<text x="820" y="17" font-family="Liberation Sans" font-size="11.5" font-weight="bold" fill="#555">T</text>
<path d="M846.5 9 L850 6 L853 9 L850 11.5 Z M854 16 L857 13.5 L860 16 L857 18.5 Z M847.5 11 L851 15 L856 9.5" fill="#555" stroke="#555" stroke-width="0.8"/>
<path d="M867 11 H872 L869.5 14 Z" fill="#000"/>
<!-- timeframes -->
<g font-family="Liberation Sans" font-size="10" fill="#333" letter-spacing="-0.25">
<text x="893" y="16">M1</text><text x="921.5" y="16">M5</text><text x="948" y="16">M15</text><text x="975.5" y="16">M30</text>
<text x="1006" y="16">H1</text><text x="1033.5" y="16">H4</text><text x="1062.5" y="16">D1</text><text x="1089.5" y="16">W1</text><text x="1116" y="16">MN</text>
</g>
<!-- search -->
<circle cx="1609.6" cy="9.4" r="3.8" fill="#fff" stroke="#2a64d0" stroke-width="1.2"/>
<path d="M1607 12 L1602.5 16.5" stroke="#2a64d0" stroke-width="2" stroke-linecap="round"/>
<!-- notification -->
<path d="M1627 14 C1627 10 1636 10 1637 13.5 C1637 17 1632 18 1630.5 17.5 L1629.5 19.5 L1629.5 17 C1627.5 16.5 1627 15.5 1627 14 Z" fill="#e2e4ea" stroke="#b8bcc4" stroke-width="0.8"/>
<circle cx="1640.2" cy="9.4" r="8.2" fill="#dc3218"/>
<text x="1637" y="13.5" font-family="Liberation Sans" font-size="11" fill="#fff">1</text>
</g>
</g>
</svg>
</body></html>
